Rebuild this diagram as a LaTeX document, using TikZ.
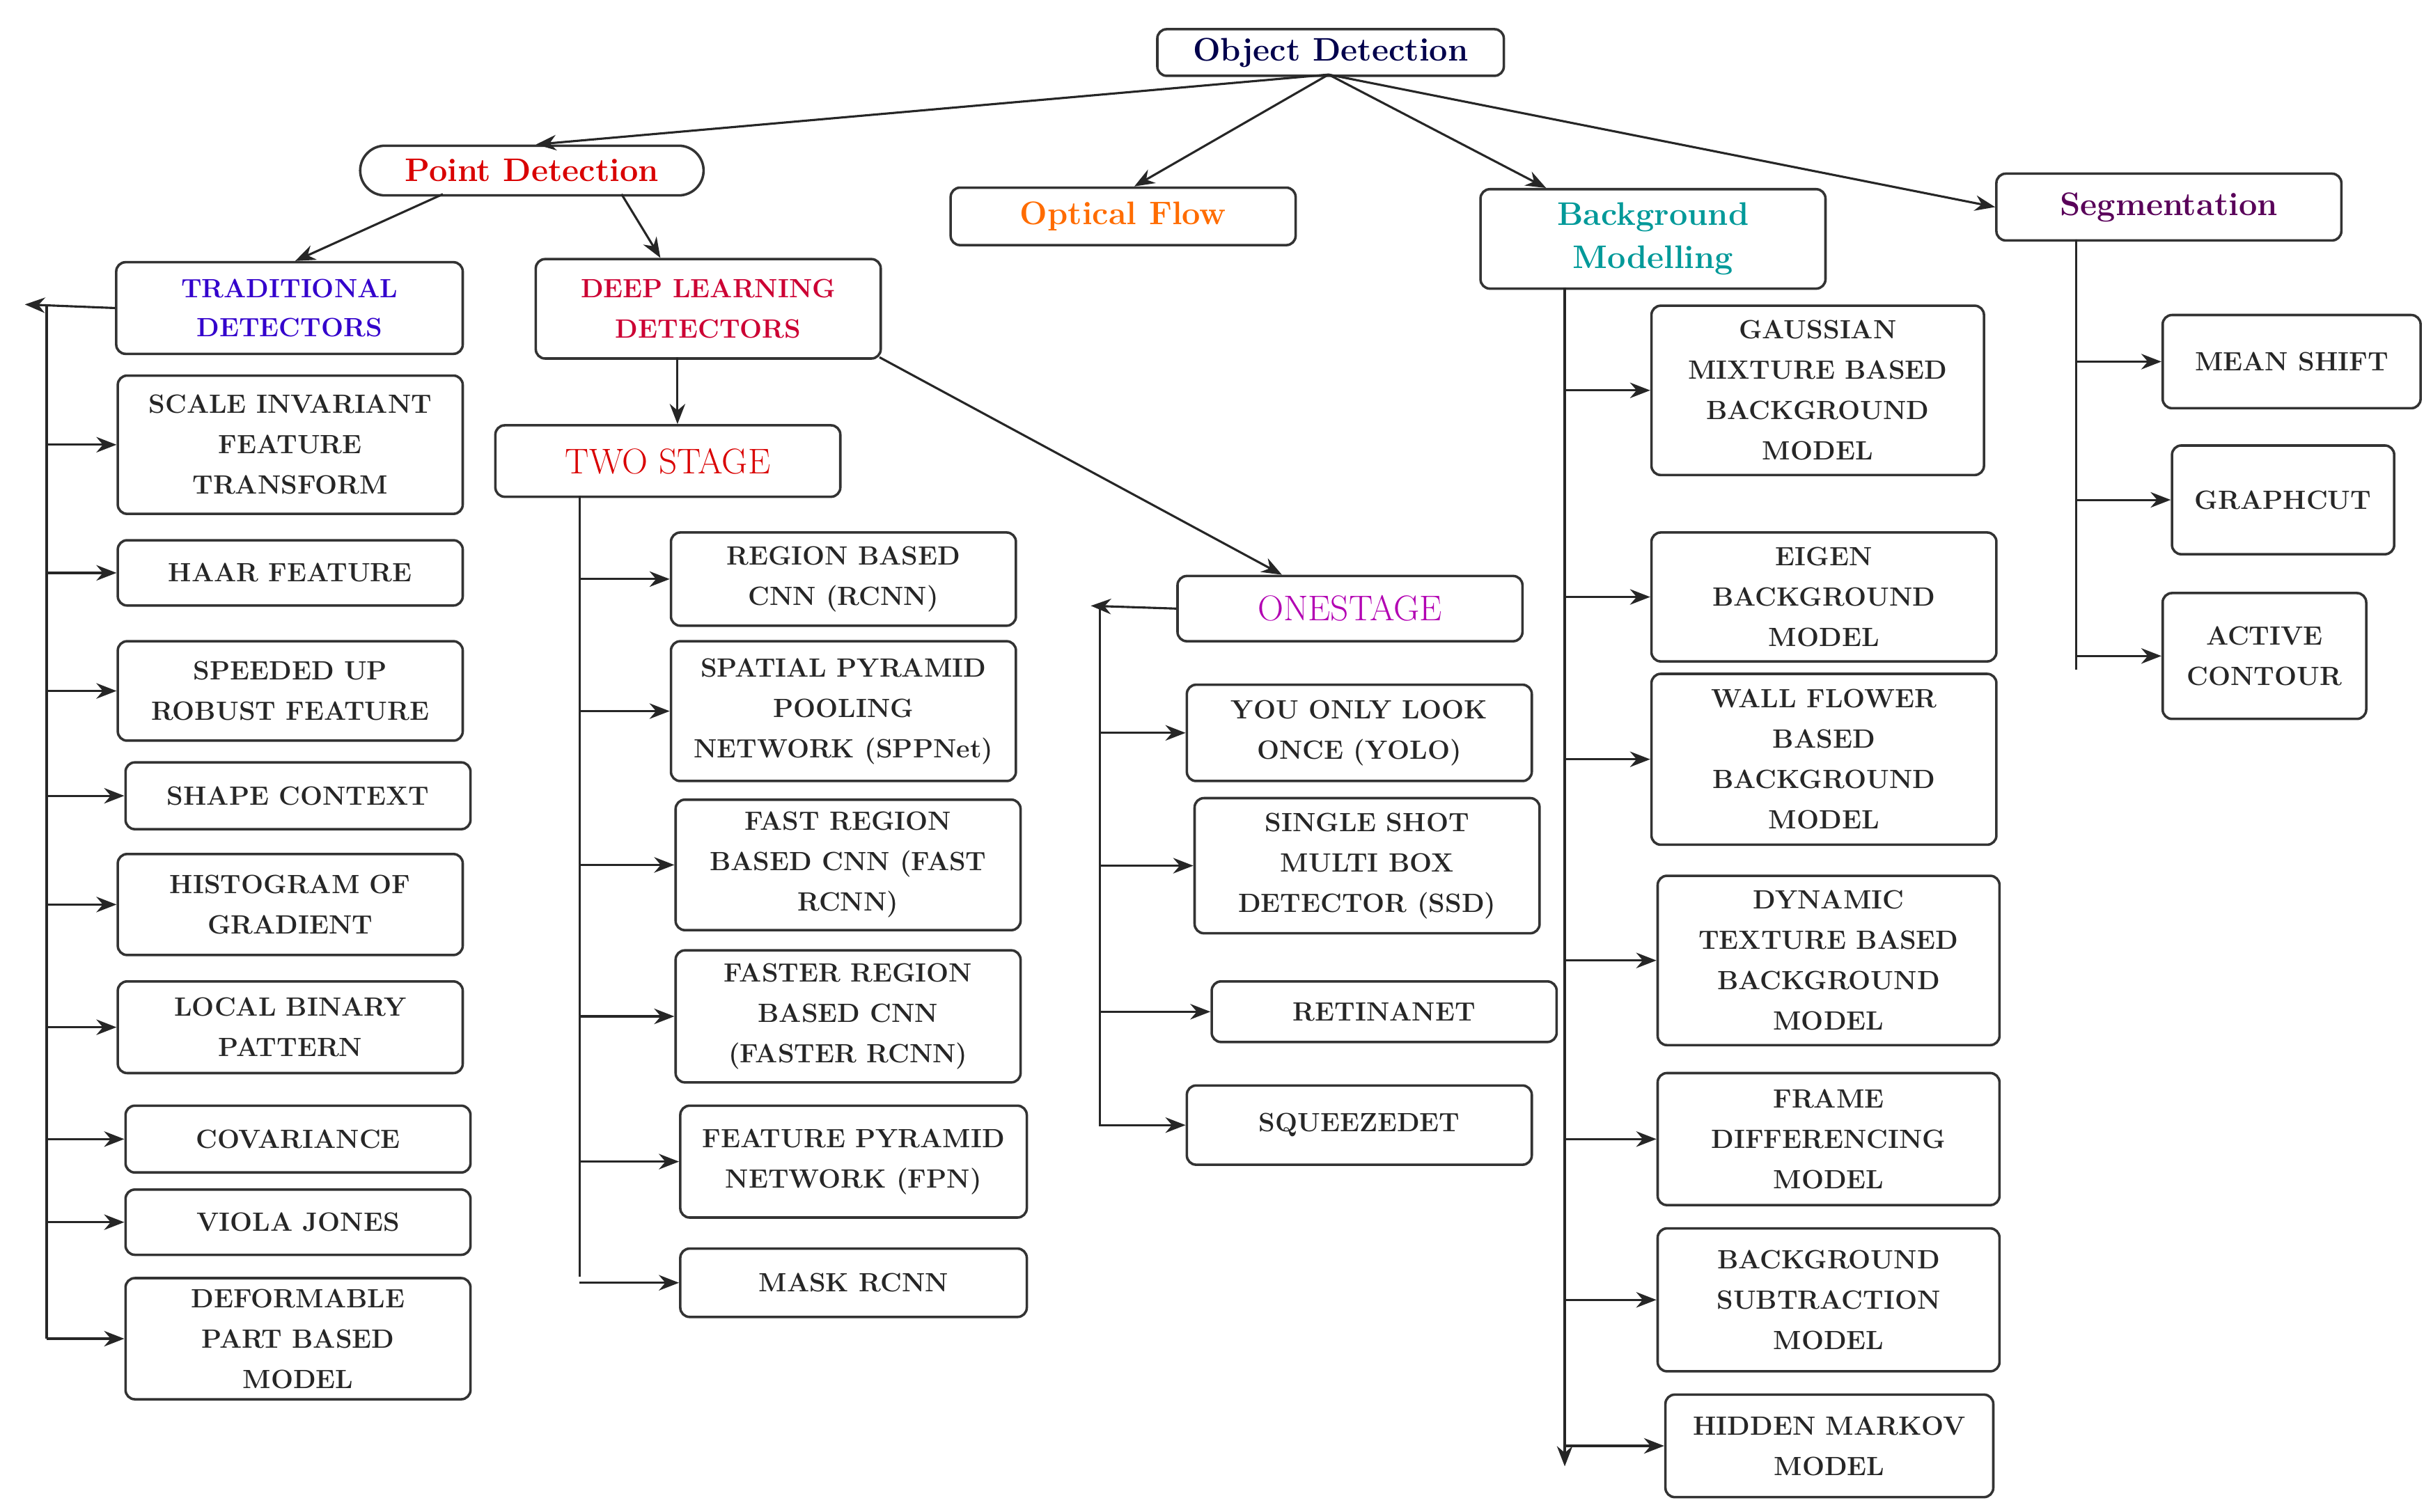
\documentclass[tikz,border=0pt]{standalone}
\usetikzlibrary{arrows.meta}
\begin{document}
\begin{tikzpicture}[x=1pt,y=-1pt,
 box/.style={draw=black!80,line width=1.6pt,rounded corners=6pt,align=center,inner sep=1pt,
   font=\fontsize{17}{26}\selectfont\bfseries,text=black!85},
 hd/.style={box,font=\fontsize{21}{28}\selectfont\bfseries},
 arr/.style={-{Stealth[length=13pt,width=10pt]},line width=1.4pt,black!85},
 ln/.style={line width=1.4pt,black!85}]
\useasboundingbox (0,0) rectangle (1560,973);
% headers
\node[hd,text=blue!30!black,anchor=north west,minimum width=223pt,minimum height=30pt] (OD) at (744,18) {Object Detection};
\node[hd,text=red!85!black,anchor=north west,minimum width=221pt,minimum height=32pt,rounded corners=16pt] (PD) at (231,93) {Point Detection};
\node[hd,text=orange!85!red,anchor=north west,minimum width=222pt,minimum height=37pt] (OF) at (611,120) {Optical Flow};
\node[hd,text=teal!80!cyan,anchor=north west,minimum width=222pt,minimum height=64pt] (BM) at (952,121) {Background\\Modelling};
\node[hd,text=violet!70!black,anchor=north west,minimum width=222pt,minimum height=43pt] (SEG) at (1284,111) {Segmentation};
\node[box,text=blue!60!violet,font=\fontsize{17}{25}\selectfont\bfseries,anchor=north west,minimum width=223pt,minimum height=59pt] (TD) at (74,168) {TRADITIONAL\\DETECTORS};
\node[box,text=red!60!violet,anchor=north west,minimum width=222pt,minimum height=64pt] (DL) at (344,166) {DEEP LEARNING\\DETECTORS};
\node[box,text=red!85!black,font=\fontsize{23}{28}\selectfont,anchor=north west,minimum width=222pt,minimum height=46pt] (TS) at (318,273) {TWO STAGE};
\node[box,text=violet!60!magenta,font=\fontsize{23}{28}\selectfont,anchor=north west,minimum width=222pt,minimum height=42pt] (OS) at (757,370) {ONESTAGE};
% generic boxes
\newcommand\lb[6]{\node[box,anchor=north west,minimum width={(#3-#1)*1pt},minimum height={(#4-#2)*1pt}] (#5) at (#1,#2) {#6};}
\lb{75}{241}{297}{330}{t1}{SCALE INVARIANT\\FEATURE\\TRANSFORM}
\lb{75}{347}{297}{389}{t2}{HAAR FEATURE}
\lb{75}{412}{297}{476}{t3}{SPEEDED UP\\ROBUST FEATURE}
\lb{80}{490}{302}{533}{t4}{SHAPE CONTEXT}
\lb{75}{549}{297}{614}{t5}{HISTOGRAM OF\\GRADIENT}
\lb{75}{631}{297}{690}{t6}{LOCAL BINARY\\PATTERN}
\lb{80}{711}{302}{754}{t7}{COVARIANCE}
\lb{80}{765}{302}{807}{t8}{VIOLA JONES}
\lb{80}{822}{302}{900}{t9}{DEFORMABLE\\PART BASED\\MODEL}
\lb{431}{342}{653}{402}{s1}{REGION BASED\\CNN (RCNN)}
\lb{431}{412}{653}{502}{s2}{SPATIAL PYRAMID\\POOLING\\NETWORK (SPPNet)}
\lb{434}{514}{656}{598}{s3}{FAST REGION\\BASED CNN (FAST\\RCNN)}
\lb{434}{611}{656}{696}{s4}{FASTER REGION\\BASED CNN\\(FASTER RCNN)}
\lb{437}{711}{660}{783}{s5}{FEATURE PYRAMID\\NETWORK (FPN)}
\lb{437}{803}{660}{847}{s6}{MASK RCNN}
\lb{763}{440}{985}{502}{o1}{YOU ONLY LOOK\\ONCE (YOLO)}
\lb{768}{513}{990}{600}{o2}{SINGLE SHOT\\MULTI BOX\\DETECTOR (SSD)}
\lb{779}{631}{1001}{670}{o3}{RETINANET}
\lb{763}{698}{985}{749}{o4}{SQUEEZEDET}
\lb{1062}{196}{1276}{305}{b1}{GAUSSIAN\\MIXTURE BASED\\BACKGROUND\\MODEL}
\lb{1062}{342}{1284}{425}{b2}{EIGEN\\BACKGROUND\\MODEL}
\lb{1062}{433}{1284}{543}{b3}{WALL FLOWER\\BASED\\BACKGROUND\\MODEL}
\lb{1066}{563}{1286}{672}{b4}{DYNAMIC\\TEXTURE BASED\\BACKGROUND\\MODEL}
\lb{1066}{690}{1286}{775}{b5}{FRAME\\DIFFERENCING\\MODEL}
\lb{1066}{790}{1286}{882}{b6}{BACKGROUND\\SUBTRACTION\\MODEL}
\lb{1071}{897}{1282}{963}{b7}{HIDDEN MARKOV\\MODEL}
\lb{1391}{202}{1557}{262}{g1}{MEAN SHIFT}
\lb{1397}{286}{1540}{356}{g2}{GRAPHCUT}
\lb{1391}{381}{1522}{462}{g3}{ACTIVE\\CONTOUR}
% top connectors
\coordinate (odb) at (855,48);
\draw[arr] (odb) -- (345,93);
\draw[arr] (odb) -- (730,120);
\draw[arr] (odb) -- (995,121);
\draw[arr] (odb) -- (SEG.west);
\draw[arr] (285,125) -- (190,168);
\draw[arr] (400,125) -- (425,166);
\draw[arr] (436,230) -- (436,273);
\draw[arr] (566,230) -- (825,370);
% traditional
\coordinate (tl) at (30,196);
\coordinate (tlb) at (30,862);
\draw[arr] (TD.west) -- (16,196);
\draw[ln] (tl) -- (tlb);
\foreach \n in {t1,t2,t3,t4,t5,t6,t7,t8,t9}{\draw[arr] (\n.west -| tl) -- (\n.west);}
% two stage
\coordinate (sl) at (373,319);
\draw[ln] (sl) -- (373,822);
\foreach \n in {s1,s2,s3,s4,s5,s6}{\draw[arr] (\n.west -| sl) -- (\n.west);}
% one stage
\coordinate (ol) at (708,390);
\draw[arr] (OS.west) -- (702,390);
\draw[ln] (ol) -- (708,725);
\foreach \n in {o1,o2,o3,o4}{\draw[arr] (\n.west -| ol) -- (\n.west);}
% background
\coordinate (bl) at (1007,185);
\draw[arr] (bl) -- (1007,944);
\foreach \n in {b1,b2,b3,b4,b5,b6,b7}{\draw[arr] (\n.west -| bl) -- (\n.west);}
% segmentation
\coordinate (gl) at (1336,154);
\draw[ln] (gl) -- (1336,431);
\foreach \n in {g1,g2,g3}{\draw[arr] (\n.west -| gl) -- (\n.west);}
\end{tikzpicture}
\end{document}
